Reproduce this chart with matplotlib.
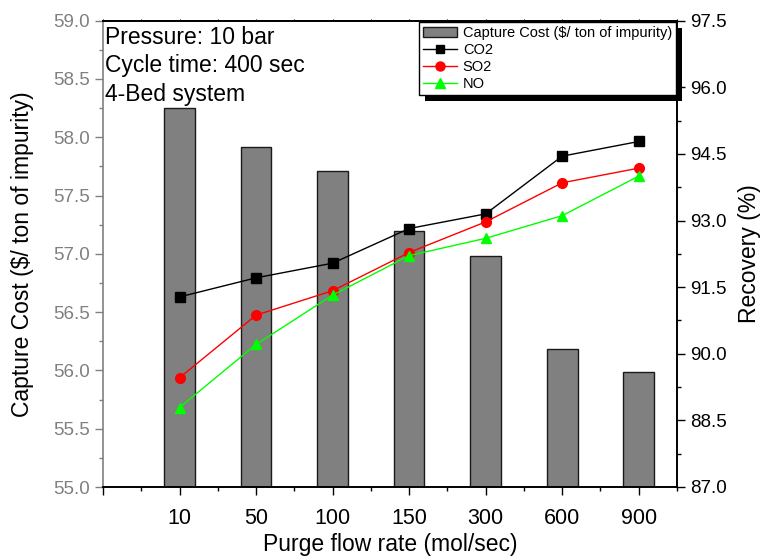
import matplotlib
matplotlib.use("Agg")
import matplotlib.pyplot as plt
from matplotlib.patches import Rectangle, Patch
from matplotlib.lines import Line2D
from matplotlib.ticker import MultipleLocator, FormatStrFormatter
import numpy as np

plt.rcParams['font.family'] = ['Liberation Sans', 'DejaVu Sans']

flow_rates = ['10', '50', '100', '150', '300', '600', '900']
capture_cost = [58.25, 57.92, 57.71, 57.20, 56.98, 56.18, 55.99]
rec_co2 = [91.28, 91.71, 92.04, 92.82, 93.15, 94.45, 94.78]
rec_so2 = [89.46, 90.87, 91.42, 92.28, 92.97, 93.85, 94.18]
rec_no = [88.79, 90.21, 91.32, 92.21, 92.60, 93.11, 94.00]

grey = '#808080'

fig = plt.figure(figsize=(7.62, 5.59), dpi=100)
ax = fig.add_axes([103 / 762, 1 - 487 / 559, 574 / 762, 466.3 / 559])
ax2 = ax.twinx()

x = np.arange(1, len(flow_rates) + 1)
ax.bar(x, capture_cost, width=0.4, color=grey, edgecolor='#1a1a1a', linewidth=1.0)
ax.set_ylim(55.0, 59.0)
ax.set_xlim(0, 7.5)
ax.set_xticks(np.arange(0, 8))
ax.set_xticklabels([''] + flow_rates)
ax.xaxis.set_minor_locator(MultipleLocator(0.5))
ax.yaxis.set_major_locator(MultipleLocator(0.5))
ax.yaxis.set_minor_locator(MultipleLocator(0.25))
ax.yaxis.set_major_formatter(FormatStrFormatter('%.1f'))

ax.tick_params(axis='y', which='both', direction='out', colors=grey, labelsize=13.5)
ax.tick_params(axis='y', which='major', length=6, width=1)
ax.tick_params(axis='y', which='minor', length=3, width=1)
ax.tick_params(axis='x', which='major', direction='out', length=6, width=1, labelsize=15.5, pad=9)
ax.tick_params(axis='x', which='minor', direction='out', length=3, width=1)
for s in ax.spines.values():
    s.set_linewidth(1.2)
ax.spines['left'].set_color(grey)

# tiny ticks along the top frame
top = ax.secondary_xaxis('top')
top.set_xticks(np.arange(0, 7.51, 0.5))
top.tick_params(axis='x', direction='out', length=1.5, width=0.8, labeltop=False)
top.spines['top'].set_linewidth(1.2)

ax.set_xlabel('Purge flow rate (mol/sec)', fontsize=16.5, labelpad=3)
ax.set_ylabel('Capture Cost ($/ ton of impurity)', fontsize=16.5, labelpad=14)

ax2.plot(x, rec_co2, color='black', marker='s', markersize=6.5, linewidth=1.0)
ax2.plot(x, rec_so2, color='red', marker='o', markersize=7, linewidth=1.0)
ax2.plot(x, rec_no, color='#00ff00', marker='^', markersize=7.5, linewidth=1.0)
ax2.set_ylim(87.0, 97.5)
ax2.yaxis.set_major_locator(MultipleLocator(1.5))
ax2.yaxis.set_minor_locator(MultipleLocator(0.75))
ax2.yaxis.set_major_formatter(FormatStrFormatter('%.1f'))
ax2.tick_params(axis='y', which='major', direction='out', length=6, width=1, labelsize=13.5)
ax2.tick_params(axis='y', which='minor', direction='out', length=3, width=1)
ax2.spines['left'].set_visible(False)
for s in ax2.spines.values():
    s.set_linewidth(1.2)
ax2.set_ylabel('Recovery (%)', fontsize=16.5, labelpad=8)

notes = ['Pressure: 10 bar', 'Cycle time: 400 sec', '4-Bed system']
for i, t in enumerate(notes):
    ax2.text(0.003, 0.9507 - i * 0.0615, t, transform=ax2.transAxes, fontsize=16.5,
             va='baseline', ha='left')

handles = [
    Patch(facecolor=grey, edgecolor='#1a1a1a', linewidth=1.0),
    Line2D([], [], color='black', marker='s', markersize=6, linewidth=1.0),
    Line2D([], [], color='red', marker='o', markersize=6.5, linewidth=1.0),
    Line2D([], [], color='#00ff00', marker='^', markersize=7, linewidth=1.0),
]
labels = ['Capture Cost ($/ ton of impurity)', 'CO2', 'SO2', 'NO']
leg = ax2.legend(handles, labels, loc='upper right', bbox_to_anchor=(0.999, 0.998),
                 borderaxespad=0, fontsize=10.5, frameon=True, fancybox=False,
                 edgecolor='black', framealpha=1, handlelength=2.3, handletextpad=0.4,
                 labelspacing=0.2, borderpad=0.3)
leg.get_frame().set_linewidth(1.0)
leg.set_zorder(6)

fig.canvas.draw()
bb = leg.get_window_extent().transformed(fig.transFigure.inverted())
dx, dy = 6 / 762, 6 / 559
shadow = Rectangle((bb.x0 + dx, bb.y0 - dy), bb.width, bb.height, transform=fig.transFigure,
                   facecolor='black', edgecolor='none', clip_on=False, zorder=5.5)
ax2.add_patch(shadow)

fig.savefig('out.png', dpi=100)
